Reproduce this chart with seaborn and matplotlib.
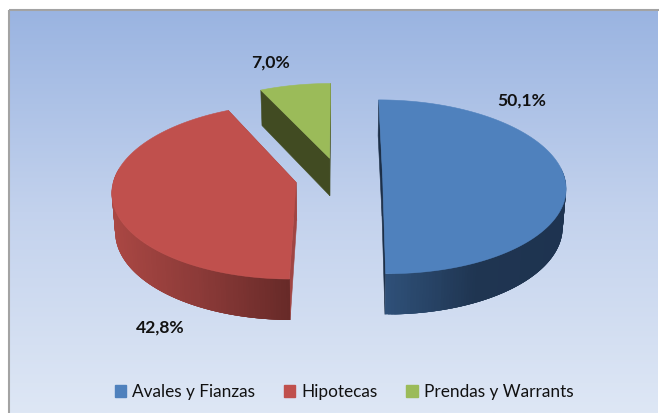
import numpy as np
import matplotlib
matplotlib.use('Agg')
import matplotlib.pyplot as plt
from matplotlib.patches import Polygon, Patch, Rectangle
import seaborn as sns

# ====================
#  DATA
# ====================

categories = ['Avales y Fianzas', 'Hipotecas', 'Prendas y Warrants']
shares = [50.1, 42.8, 7.0]
share_labels = ['50,1%', '42,8%', '7,0%']

top_colors = ['#4f81bd', '#c0504d', '#9bbb59']
wall_ramps = [['#2f5078', '#1f3551', '#1e3350'],
              ['#aa4743', '#8b3a38', '#682a28'],
              ['#414b22', '#414b22', '#414b22']]
cut_colors = ['#1c2f48', '#a04543', '#414b22']

# where the 3d pie sits in the picture (pixels)
W, H = 659, 413
CX, CY = 339, 178
RX, RY = 182, 86
PERSP = 0.10
DEPTH = 38
SHRINK = 0.015
EXPLODE = 0.24
label_pos = [(521.5, 101), (160, 328), (270, 63)]


def project(x, y, drop=0.0):
    s = 1 + PERSP * y
    k = 1 - SHRINK * drop
    return CX + RX * x * k / s, CY - RY * y * k / s + DEPTH * drop / s


def draw_slice(ax, a0, a1, top, ramp, cut):
    # a0 > a1, pie runs clockwise
    mid = np.radians((a0 + a1) / 2)
    ex, ey = EXPLODE * np.cos(mid), EXPLODE * np.sin(mid)
    ang = np.radians(np.linspace(a0, a1, 200))
    xs, ys = ex + np.cos(ang), ey + np.sin(ang)

    # cut faces
    for a in (ang[0], ang[-1]):
        px, py = ex + np.cos(a), ey + np.sin(a)
        face = [project(ex, ey), project(px, py), project(px, py, 1), project(ex, ey, 1)]
        ax.add_patch(Polygon(face, closed=True, fc=cut, ec=cut, lw=0.4))

    # outer wall, only the part facing the viewer
    colors = sns.blend_palette(ramp, 64)
    span = [i for i in range(len(ang) - 1) if np.sin(ang[i]) < 0.12]
    if span:
        us = [project(xs[i], ys[i])[0] for i in span]
        low, high = min(us), max(us)
    # painted left to right with overlap so no seams show between the steps
    span = sorted(span, key=lambda i: project(xs[i], ys[i])[0])
    for i in span:
        if xs[i] < xs[i + 1]:
            i0, i1 = i, min(i + 4, len(ang) - 1)
        else:
            i0, i1 = i + 1, max(i - 3, 0)
        quad = [project(xs[i0], ys[i0]), project(xs[i1], ys[i1]),
                project(xs[i1], ys[i1], 1), project(xs[i0], ys[i0], 1)]
        frac = (project(xs[i], ys[i])[0] - low) / max(high - low, 1)
        c = colors[int(np.clip(frac, 0, 1) * 63)]
        ax.add_patch(Polygon(quad, closed=True, fc=c, ec='none', lw=0))

    # top surface
    outline = [project(ex, ey)] + [project(x, y) for x, y in zip(xs, ys)]
    ax.add_patch(Polygon(outline, closed=True, fc=top, ec=top, lw=0.4))


def main():
    sns.set_theme(style='white')
    plt.rcParams['font.family'] = ['Lato', 'DejaVu Sans']

    fig = plt.figure(figsize=(W / 100, H / 100), dpi=100, facecolor='white')
    ax = fig.add_axes([0, 0, 1, 1])
    ax.set_xlim(0, W)
    ax.set_ylim(H, 0)
    ax.axis('off')

    # chart area background
    grad = np.array(sns.blend_palette(['#9ab4e1', '#c3d2ed', '#dee7f5'], 256))[:, None, :]
    ax.imshow(grad, extent=(9, W - 1, H, 10), aspect='auto', zorder=0)
    ax.add_patch(Rectangle((9, 10), W + 20, H + 20, fc='none', ec='#a3a3a3', lw=1.5, zorder=1))
    ax.set_xlim(0, W)
    ax.set_ylim(H, 0)

    # slice angles, clockwise from the top
    total = sum(shares)
    edges = 90 - np.cumsum([0] + shares) / total * 360
    for i in [2, 1, 0]:
        draw_slice(ax, edges[i], edges[i + 1], top_colors[i], wall_ramps[i], cut_colors[i])

    for text, (x, y) in zip(share_labels, label_pos):
        ax.text(x, y, text, ha='center', va='center', fontsize=12.6,
                fontweight='bold', color='#111111')

    handles = [Patch(fc=c, ec=c, label=n) for c, n in zip(top_colors, categories)]
    fig.legend(handles=handles, loc='center', bbox_to_anchor=(344 / W, 1 - 392 / H), ncol=3,
               frameon=False, fontsize=12.4, handlelength=0.68, handleheight=0.68,
               handletextpad=0.35, columnspacing=1.65, labelcolor='#111111')

    fig.savefig('out.png', dpi=100)
    plt.close(fig)


if __name__ == "__main__":
    main()
